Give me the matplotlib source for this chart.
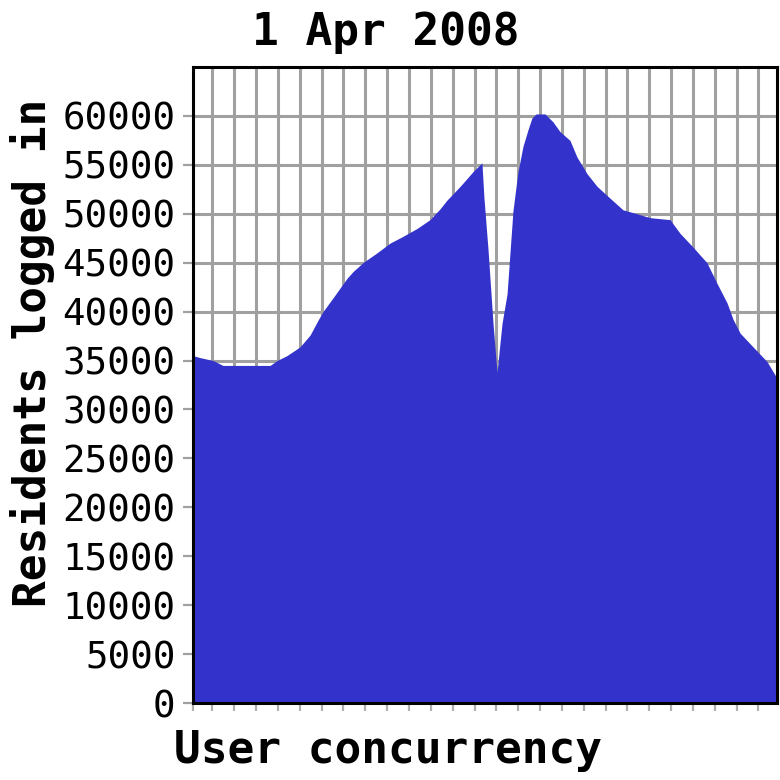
import matplotlib
matplotlib.use("Agg")
import matplotlib.pyplot as plt
import numpy as np

# time slots (axis units) and residents logged in
slots = [0.00, 0.32, 0.92, 1.37, 2.61, 3.53, 3.85, 4.30, 4.90, 5.36, 5.72, 5.95,
         6.41, 7.05, 7.33, 7.78, 8.42, 9.02, 9.62, 10.26, 10.85, 11.31, 11.63,
         12.23, 12.82, 13.23, 13.32, 13.51, 13.74, 13.92, 14.15, 14.38, 14.51,
         14.65, 14.88, 15.11, 15.34, 15.52, 15.71, 16.12, 16.48, 16.80, 17.26,
         17.58, 18.04, 18.50, 19.09, 19.69, 20.33, 20.93, 21.84, 22.30, 22.89,
         23.53, 23.99, 24.45, 24.73, 25.05, 25.64, 26.28, 26.74]
residents = [35500, 35300, 35000, 34500, 34500, 34500, 35000, 35500, 36400, 37600,
             39100, 40000, 41400, 43400, 44100, 45000, 46000, 47000, 47700, 48500,
             49400, 50500, 51400, 52800, 54300, 55200, 51700, 46300, 38700, 33800,
             38800, 41800, 45900, 50300, 54300, 56900, 58600, 59800, 60200, 60200,
             59400, 58400, 57500, 55800, 54100, 52800, 51600, 50400, 50000, 49600,
             49400, 48000, 46600, 45000, 42900, 40900, 39200, 37800, 36400, 34900,
             33200]

y_ticks = list(range(0, 60001, 5000))
grid_x = [0.89 + k for k in range(26)]
x_ticks = [0.0] + grid_x

title = "1 Apr 2008"
xlabel = "User concurrency"
ylabel = "Residents logged in"

mono = "DejaVu Sans Mono"

fig = plt.figure(figsize=(7.8, 7.8), dpi=100)
ax = fig.add_axes([193/780, 77/780, 584/780, 636/780])

ax.fill_between(slots, residents, 0, color="#3333cc", linewidth=0, zorder=3)

ax.set_xlim(0, 26.74)
ax.set_ylim(0, 65000)

ax.set_yticks(y_ticks)
ax.set_yticklabels([str(v) for v in y_ticks], fontfamily=mono, fontsize=27)
ax.set_xticks(x_ticks)
ax.set_xticklabels([])

ax.grid(True, color="#a0a0a0", linewidth=2.2, zorder=1)
ax.set_axisbelow(True)

ax.tick_params(axis="y", direction="out", length=7, width=1.6, color="#a0a0a0", pad=5.5)
ax.tick_params(axis="x", direction="out", length=6, width=1.6, color="#b0b0b0")

for s in ax.spines.values():
    s.set_color("black")
    s.set_linewidth(2.2)
    s.set_zorder(5)

fig.text(386/780, 1 - 32/780, title, fontfamily=mono, fontweight="bold",
         fontsize=32, ha="center", va="center")
fig.text(388/780, 1 - 750/780, xlabel, fontfamily=mono, fontweight="bold",
         fontsize=32, ha="center", va="center")
fig.text(33/780, 1 - 353/780, ylabel, fontfamily=mono, fontweight="bold",
         fontsize=32, ha="center", va="center", rotation=90)

fig.savefig("out.png", dpi=100, facecolor="white")
